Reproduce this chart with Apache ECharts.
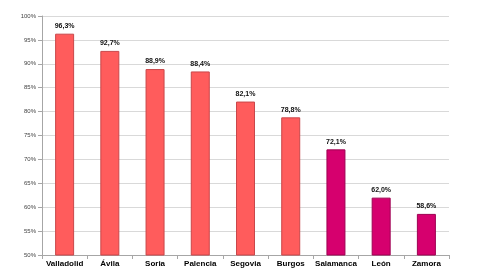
<!DOCTYPE html>
<html><head><meta charset="utf-8">
<script src="https://cdn.jsdelivr.net/npm/echarts@6/dist/echarts.min.js"></script>
<style>html,body{margin:0;padding:0;background:#fff}#c{width:480px;height:270px}</style>
</head><body><div id="c"></div>
<script>
const categories = ["Valladolid","Ávila","Soria","Palencia","Segovia","Burgos","Salamanca","León","Zamora"];
const values = [96.3, 92.7, 88.9, 88.4, 82.1, 78.8, 72.1, 62.0, 58.6];
const groups = ["a","a","a","a","a","a","b","b","b"];
const yTicks = {min: 50, max: 100, interval: 5};
const colors = {a: {fill: "#FF5C5C", border: "#C9474A"}, b: {fill: "#D6006E", border: "#9E0052"}};

const chart = echarts.init(document.getElementById('c'));
chart.setOption({
  animation: false,
  grid: {left: 42, right: 31, top: 16, bottom: 15},
  xAxis: {
    type: 'category', data: categories,
    axisLine: {lineStyle: {color: '#A6A6A6'}},
    axisTick: {show: true, lineStyle: {color: '#A6A6A6'}, length: 4},
    axisLabel: {interval: 0, color: '#000', fontWeight: 'bold', fontSize: 8, fontFamily: 'Liberation Sans', margin: 5}
  },
  yAxis: {
    type: 'value', min: yTicks.min, max: yTicks.max, interval: yTicks.interval,
    axisLine: {show: true, lineStyle: {color: '#A6A6A6'}},
    axisTick: {show: true, lineStyle: {color: '#A6A6A6'}, length: 4},
    splitLine: {lineStyle: {color: '#D9D9D9'}},
    axisLabel: {color: '#444', fontSize: 6, fontFamily: 'Liberation Sans', margin: 6, formatter: v => v + '%'}
  },
  series: [{
    type: 'bar', barWidth: 19,
    data: values.map((v, i) => ({
      value: v,
      itemStyle: {color: colors[groups[i]].fill, borderColor: colors[groups[i]].border, borderWidth: 1}
    })),
    label: {show: true, position: 'top', distance: 4, color: '#111', fontWeight: 'bold', fontSize: 7, fontFamily: 'Liberation Sans',
      formatter: p => p.value.toFixed(1).replace('.', ',') + '%'}
  }]
});
</script></body></html>
